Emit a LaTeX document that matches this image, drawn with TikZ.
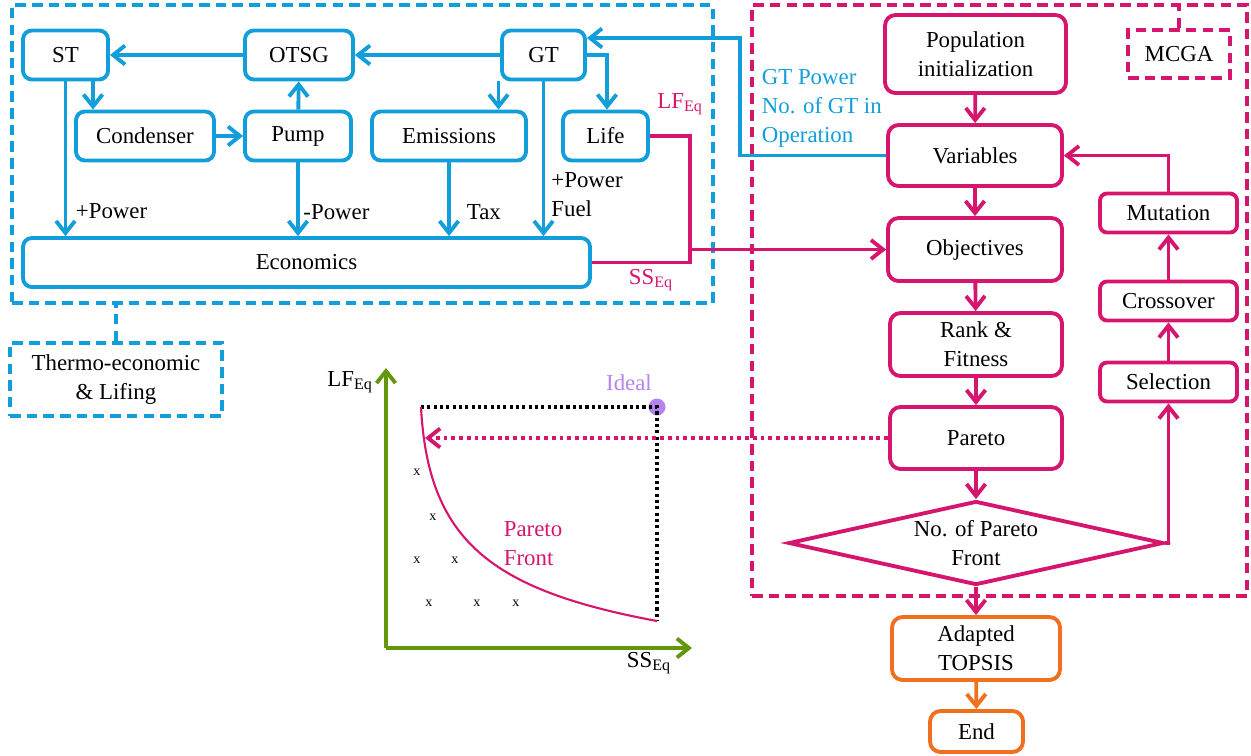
\documentclass[tikz,border=0pt]{standalone}
\usepackage{fontspec}
\setmainfont{Liberation Serif}
\usepackage{xcolor}
\usepackage{tikz}
\usetikzlibrary{calc, positioning, arrows.meta, shapes.geometric}
\definecolor{thermoBlue}{RGB}{18,158,218}
\definecolor{gaRed}{RGB}{214,22,110}
\definecolor{topOrange}{RGB}{240,112,30}
\definecolor{axisGreen}{RGB}{100,150,10}
\definecolor{idealPurple}{RGB}{182,132,240}
\newcommand{\mainsize}{\fontsize{13}{16.5}\selectfont}
\tikzset{
    unit/.style={rectangle, draw=thermoBlue, line width=2.2pt, rounded corners=5pt, fill=white, align=center, font=\mainsize, minimum height=0.98cm, inner sep=2pt},
    gaStep/.style={rectangle, draw=gaRed, line width=2.2pt, rounded corners=6pt, fill=white, align=center, font=\mainsize, minimum width=3.48cm, minimum height=1.24cm, inner sep=2pt},
    gaOp/.style={gaStep, minimum width=2.74cm, minimum height=0.78cm, rounded corners=4pt},
    gaCheck/.style={diamond, draw=gaRed, line width=2.2pt, fill=white, aspect=4.46, inner sep=0pt, minimum width=7.5cm, minimum height=1.68cm, align=center, font=\mainsize},
    mcdm/.style={rectangle, draw=topOrange, line width=2.2pt, rounded corners=6pt, fill=white, align=center, font=\mainsize},
    group/.style={rectangle, dash pattern=on 6pt off 3.5pt, line width=2.2pt, align=center, font=\mainsize},
    arrow/.style={-{Straight Barb[length=2.4mm,width=3.8mm]}, line width=2.2pt},
    label/.style={font=\mainsize, align=left, inner sep=2pt, text=black},
    xpoint/.style={font=\fontsize{8}{9}\selectfont, inner sep=0pt}
}

\begin{document}
\begin{tikzpicture}[x=0.02cm, y=-0.02cm]
    \useasboundingbox (0,0) rectangle (1251,755);

    % Frames
    \node[group, draw=thermoBlue, minimum width=14.02cm, minimum height=5.96cm] (thermoFrame) at (362.5,154) {};
    \node[group, draw=thermoBlue, fill=white, minimum width=4.24cm, minimum height=1.46cm] (thermoTag) at (116,379.5) {Thermo-economic\\\& Lifing};
    \draw[group, thermoBlue] (thermoTag.north) -- (thermoTag.north |- thermoFrame.south);
    \node[group, draw=gaRed, minimum width=9.9cm, minimum height=11.82cm] (gaFrame) at (999.5,300.5) {};
    \node[group, draw=gaRed, fill=white, minimum width=2.04cm, minimum height=0.96cm] (gaTag) at (1179,54) {MCGA};
    \draw[group, gaRed] (gaTag.north) -- (gaTag.north |- gaFrame.north);

    % Thermo-economic model
    \node[unit, minimum width=1.7cm] (ST) at (65.5,55) {ST};
    \node[unit, minimum width=2.16cm] (OTSG) at (299,55) {OTSG};
    \node[unit, minimum width=1.66cm] (GT) at (543.5,55) {GT};
    \node[unit, minimum width=2.76cm] (Condenser) at (145,136) {Condenser};
    \node[unit, minimum width=2.12cm] (Pump) at (298,136) {Pump};
    \node[unit, minimum width=3.08cm] (Emissions) at (449,136) {Emissions};
    \node[unit, minimum width=1.7cm] (Life) at (605.5,136) {Life};
    \node[unit, minimum width=11.34cm] (Economics) at (306.5,262.5) {Economics};

    \coordinate (stOut) at ([xshift=0.55cm]ST.south);
    \coordinate (gtOut) at ([xshift=-0.9cm]GT.south);
    \coordinate (gtIn) at ([yshift=0.34cm]GT.east);
    \coordinate (gtLink) at (740,0);
    \coordinate (eqJoin) at (690,0);

    \draw[arrow, thermoBlue] (OTSG) -- (ST);
    \draw[arrow, thermoBlue] (GT) -- (OTSG);
    \draw[arrow, thermoBlue] (stOut) -- (stOut |- Condenser.north);
    \draw[arrow, thermoBlue] (Condenser) -- (Pump);
    \draw[arrow, thermoBlue] (Pump) -- (OTSG);
    \draw[arrow, thermoBlue] (gtOut) -- (gtOut |- Emissions.north);
    \draw[arrow, thermoBlue] (GT.east) -| ([xshift=0.03cm]Life.north);
    \draw[arrow, thermoBlue] (ST.south) -- (ST.south |- Economics.north)
        node[label, pos=0.84, right, xshift=0.1cm] {+Power};
    \draw[arrow, thermoBlue] (Pump.south) -- (Pump.south |- Economics.north)
        node[label, pos=0.67, right] {-Power};
    \draw[arrow, thermoBlue] (Emissions.south) -- (Emissions.south |- Economics.north)
        node[label, pos=0.67, right, xshift=0.25cm] {Tax};
    \draw[arrow, thermoBlue] (GT.south) -- (GT.south |- Economics.north)
        node[label, pos=0.73, right, xshift=0.05cm] {+Power\\Fuel};

    % MCGA
    \node[gaStep, minimum width=3.62cm, minimum height=1.56cm] (Population) at (975.5,54) {Population\\initialization};
    \node[gaStep, minimum height=1.22cm] (Variables) at (975,155.5) {Variables};
    \node[gaStep, minimum height=1.26cm] (Objectives) at (975,249.5) {Objectives};
    \node[gaStep, minimum width=3.44cm, minimum height=1.26cm] (Rank) at (976,344.5) {Rank \&\\Fitness};
    \node[gaStep, minimum width=3.44cm] (Pareto) at (976,438) {Pareto};
    \node[gaCheck] (Decision) at (976,543) {No. of Pareto\\Front};
    \node[gaOp] (Mutation) at (1168.5,213) {Mutation};
    \node[gaOp] (Crossover) at (1168.5,301) {Crossover};
    \node[gaOp] (Selection) at (1168.5,382) {Selection};

    \draw[arrow, gaRed] (Population) -- (Variables);
    \draw[arrow, gaRed] (Variables) -- (Objectives);
    \draw[arrow, gaRed] (Objectives) -- (Rank);
    \draw[arrow, gaRed] (Rank) -- (Pareto);
    \draw[arrow, gaRed] (Pareto) -- (Decision);
    \draw[arrow, gaRed] (Decision.east) -| (Selection.south);
    \draw[arrow, gaRed] (Selection) -- (Crossover);
    \draw[arrow, gaRed] (Crossover) -- (Mutation);
    \draw[arrow, gaRed] (Mutation.north) |- (Variables.east);

    % Outputs to the GA
    \draw[gaRed, line width=2.2pt] (Life.east) -| (eqJoin |- Economics.east) -- (Economics.east);
    \draw[arrow, gaRed] (eqJoin |- Objectives.west) -- (Objectives.west);
    \node[label, text=gaRed] (lfLabel) at (680,104) {LF\textsubscript{Eq}};
    \node[label, text=gaRed] (ssLabel) at (651,280) {SS\textsubscript{Eq}};

    % GT feedback
    \draw[arrow, thermoBlue] (Variables.west) -| (gtLink |- gtIn) -- (gtIn);
    \node[label, text=thermoBlue, anchor=west] (gtVars) at (758,108) {GT Power\\No. of GT in\\Operation};

    % Decision making
    \node[mcdm, minimum width=3.36cm, minimum height=1.26cm] (TOPSIS) at (976,648.5) {Adapted\\TOPSIS};
    \node[mcdm, minimum width=1.86cm, minimum height=0.82cm] (End) at (976.5,731.5) {End};
    \draw[arrow, gaRed] (Decision) -- (TOPSIS);
    \draw[arrow, topOrange] (TOPSIS) -- (End);

    % Pareto front plot
    \coordinate (origin) at (386,648);
    \coordinate (frontTop) at (421,407);
    \coordinate (frontEnd) at (657,621);
    \coordinate (frontIn) at (425,438);
    \draw[arrow, axisGreen] (origin) -- (386,368);
    \draw[arrow, axisGreen] (origin) -- (692,648);
    \node[label] (lfAxis) at (350,382) {LF\textsubscript{Eq}};
    \node[label] (ssAxis) at (649,663) {SS\textsubscript{Eq}};
    \node[circle, fill=idealPurple, minimum size=0.34cm, inner sep=0pt] (ideal) at (657,407) {};
    \node[label, text=idealPurple] (idealLabel) at (629,383) {Ideal};
    \draw[line width=1.8pt, dash pattern=on 1.8pt off 1.8pt] (frontTop) -- (ideal.center) -- (frontEnd);
    \draw[gaRed, line width=1.2pt] (frontTop) .. controls (428,540) and (490,590) .. (frontEnd);
    \draw[arrow, gaRed, dash pattern=on 2.2pt off 2.2pt] (Pareto.west) -- (frontIn);
    \node[label, text=gaRed, anchor=west] (frontLabel) at (500,544) {Pareto\\Front};
    \foreach \px/\py [count=\i] in {417/472, 433/517, 417/560, 455/560, 429/603, 477/603, 516/603}
        \node[xpoint] (sol\i) at (\px,\py) {x};
\end{tikzpicture}
\end{document}
